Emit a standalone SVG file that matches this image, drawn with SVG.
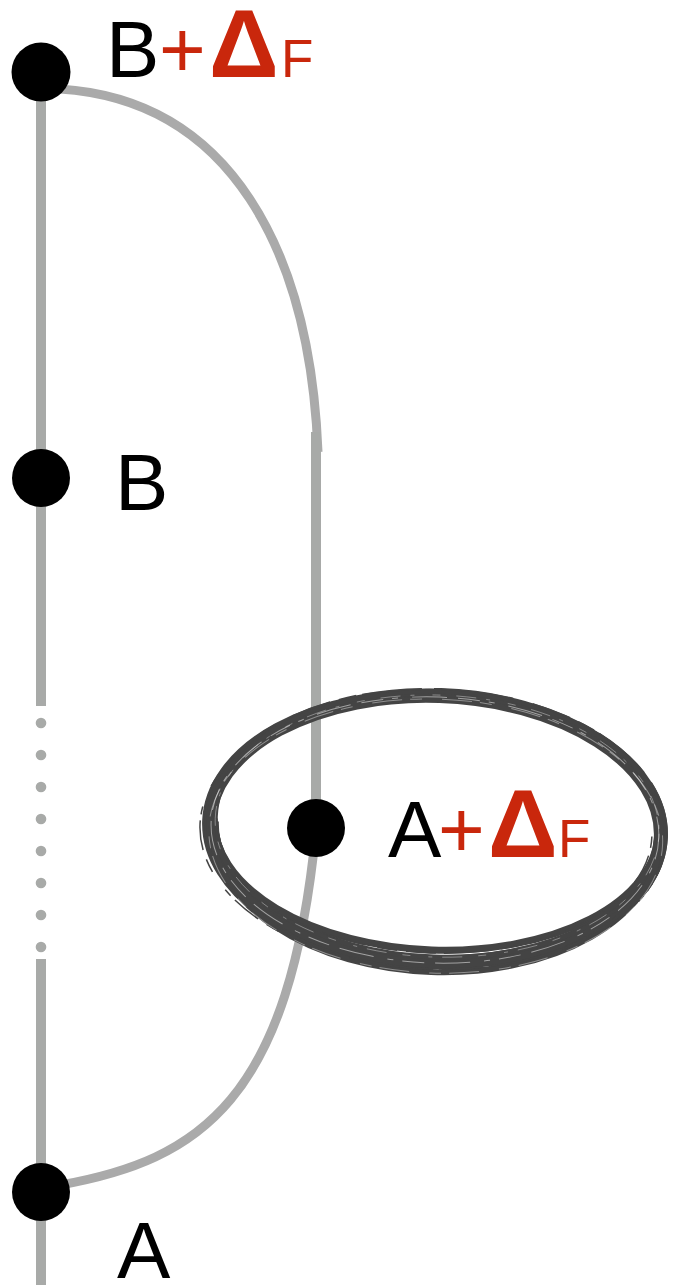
<svg xmlns="http://www.w3.org/2000/svg" width="673" height="1285" viewBox="0 0 673 1285">
  <style>
    .ln { fill: none; stroke: #a8aaa8; stroke-width: 10; }
    .cv { fill: none; stroke: #aaaaaa; stroke-width: 9; }
    .dot { fill: #a8aaa8; }
    .node { fill: #000000; }
    .lbl { font-family: "Liberation Sans", Arial, Helvetica, sans-serif; fill: #000000; font-size: 80px; }
    .red { fill: #c9270c; }
    .dl { font-size: 97px; font-weight: bold; }
    .sub { font-size: 53px; }
    .brush { fill: none; stroke: #444444; }
    .streak { fill: none; stroke: #ffffff; }
  </style>
  <rect width="673" height="1285" fill="#ffffff"/>

  <g id="connectors">
    <line class="ln" x1="41" y1="72" x2="41" y2="706"/>
    <circle class="dot" cx="41" cy="723" r="5.3"/>
    <circle class="dot" cx="41" cy="755" r="5.3"/>
    <circle class="dot" cx="41" cy="787" r="5.3"/>
    <circle class="dot" cx="41" cy="819" r="5.3"/>
    <circle class="dot" cx="41" cy="851" r="5.3"/>
    <circle class="dot" cx="41" cy="883" r="5.3"/>
    <circle class="dot" cx="41" cy="915" r="5.3"/>
    <circle class="dot" cx="41" cy="947" r="5.3"/>
    <line class="ln" x1="41" y1="959" x2="41" y2="1285"/>
    <path class="cv" d="M 60 89 C 230 100, 310 250, 318 452"/>
    <line class="ln" x1="316" y1="432" x2="316" y2="828"/>
    <path class="cv" d="M 60 1185 C 200 1160, 290 1100, 316 830"/>
  </g>

  <g id="highlight" transform="rotate(2 435 829)">
    <ellipse class="brush" cx="435" cy="829" rx="226" ry="133" stroke-width="14"/>
    <ellipse class="brush" cx="438" cy="824" rx="223" ry="133" stroke-width="5"/>
    <path class="brush" d="M 214 826 A 222 124 0 0 0 658 826" stroke-width="7"/>
    <path class="brush" d="M 212 834 A 224 138 0 0 0 660 834" stroke-width="6"/>
    <ellipse class="brush" cx="436" cy="829" rx="231" ry="140" stroke-width="2" stroke-dasharray="40 9 18 6 60 12 80 20"/>
    <ellipse class="brush" cx="433" cy="833" rx="233" ry="136" stroke-width="1.5" stroke-dasharray="14 10 30 6 8 22"/>
    <path class="brush" d="M 218 829 A 217 124 0 0 0 652 829" stroke-width="1.5" stroke-dasharray="30 8 45 12 20 9"/>
    <ellipse class="streak" cx="435" cy="830" rx="224" ry="133" stroke-width="1" stroke-opacity="0.5" stroke-dasharray="22 9 6 14 35 11"/>
    <ellipse class="streak" cx="436" cy="836" rx="227" ry="137" stroke-width="1" stroke-opacity="0.4" stroke-dasharray="12 20 30 8"/>
    <ellipse class="streak" cx="437" cy="826" rx="222" ry="131" stroke-width="0.8" stroke-opacity="0.45" stroke-dasharray="8 16 20 10 4 18"/>
  </g>

  <g id="node-b-delta">
    <circle class="node" cx="41" cy="72" r="29.5"/>
    <text class="lbl" y="77"><tspan x="106">B</tspan><tspan class="red" x="159">+</tspan><tspan class="red dl" x="209">Δ</tspan><tspan class="red sub" x="281">F</tspan></text>
  </g>

  <g id="node-b">
    <circle class="node" cx="41" cy="478" r="29"/>
    <text class="lbl" x="115" y="510">B</text>
  </g>

  <g id="node-a-delta">
    <circle class="node" cx="316" cy="828" r="29"/>
    <text class="lbl" y="857"><tspan x="388">A</tspan><tspan class="red" x="438">+</tspan><tspan class="red dl" x="488">Δ</tspan><tspan class="red sub" x="558">F</tspan></text>
  </g>

  <g id="node-a">
    <circle class="node" cx="41" cy="1192" r="29"/>
    <text class="lbl" x="117" y="1278">A</text>
  </g>
</svg>
